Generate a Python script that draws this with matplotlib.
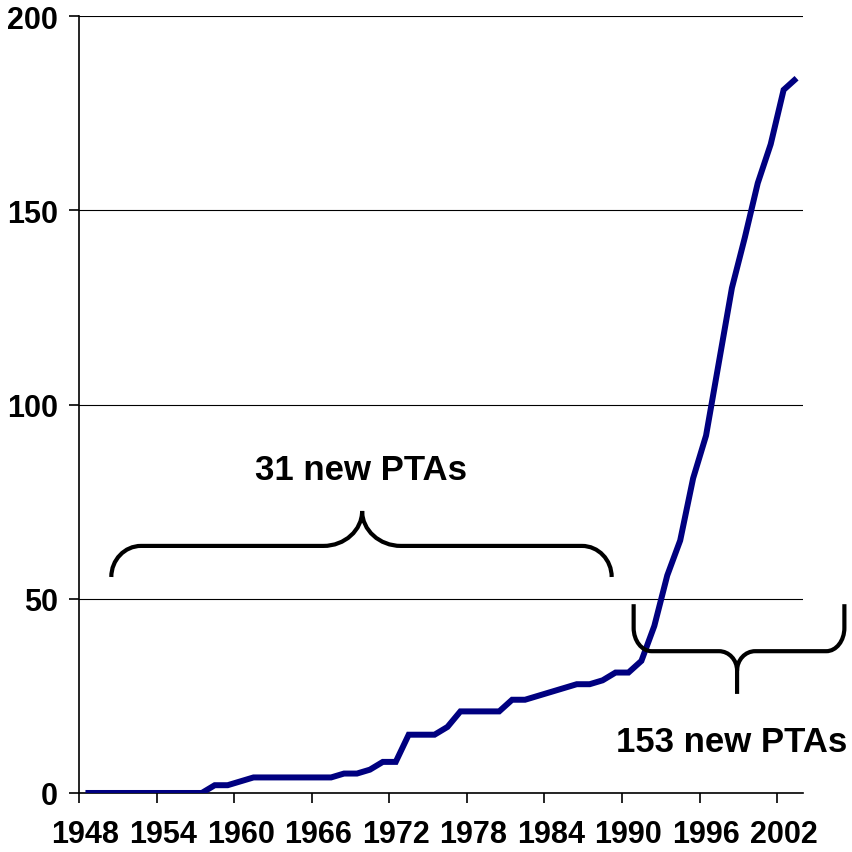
import matplotlib.pyplot as plt
from matplotlib.path import Path
from matplotlib.patches import PathPatch

plt.rcParams['font.family'] = ['Liberation Sans', 'DejaVu Sans']
plt.rcParams['font.weight'] = 'bold'

years = list(range(1948, 2004))
ptas = [0, 0, 0, 0, 0, 0, 0, 0, 0, 0,
        2, 2, 3, 4, 4, 4, 4, 4, 4, 4,
        5, 5, 6, 8, 8, 15, 15, 15, 17, 21,
        21, 21, 21, 24, 24, 25, 26, 27, 28, 28,
        29, 31, 31, 34, 43, 56, 65, 81, 92, 111,
        130, 143, 157, 167, 181, 184]

label_years = [1948, 1954, 1960, 1966, 1972, 1978, 1984, 1990, 1996, 2002]
y_ticks = [0, 50, 100, 150, 200]

# braces: (x_left, x_right, x_center, y_tips, y_bar, y_point)
brace1 = (1950.0, 1988.7, 1969.4, 55.6, 63.6, 72.6)
brace2 = (1990.4, 2006.7, 1998.4, 48.6, 36.5, 25.5)
label1 = ("31 new PTAs", 1969.3, 83.3)
label2 = ("153 new PTAs", 1998.0, 13.2)


def brace_path(x0, x1, xc, ytip, ybar, ypeak, rx, ry, rc, ryc):
    s = 1 if ybar > ytip else -1
    k = 0.552
    verts = [(x0, ytip), (x0, ybar - s * ry),
             (x0, ybar - s * ry + s * k * ry), (x0 + rx - k * rx, ybar), (x0 + rx, ybar),
             (xc - rc, ybar),
             (xc - rc + k * rc, ybar), (xc, ybar + s * ryc - s * k * ryc), (xc, ybar + s * ryc),
             (xc, ypeak),
             (xc, ybar + s * ryc),
             (xc, ybar + s * ryc - s * k * ryc), (xc + rc - k * rc, ybar), (xc + rc, ybar),
             (x1 - rx, ybar),
             (x1 - rx + k * rx, ybar), (x1, ybar - s * ry + s * k * ry), (x1, ybar - s * ry),
             (x1, ytip)]
    codes = [Path.MOVETO, Path.LINETO,
             Path.CURVE4, Path.CURVE4, Path.CURVE4,
             Path.LINETO,
             Path.CURVE4, Path.CURVE4, Path.CURVE4,
             Path.LINETO,
             Path.MOVETO,
             Path.CURVE4, Path.CURVE4, Path.CURVE4,
             Path.LINETO,
             Path.CURVE4, Path.CURVE4, Path.CURVE4,
             Path.LINETO]
    return Path(verts, codes)


fig = plt.figure(figsize=(8.53, 8.53), dpi=100)
ax = fig.add_axes([0.0926, 0.0692, 0.8488, 0.9108])

ax.plot(years, ptas, color='#000080', linewidth=4.3, solid_joinstyle='miter',
        solid_capstyle='butt', zorder=3)

ax.set_xlim(1947.5, 2003.5)
ax.set_ylim(0, 200)

ax.set_yticks(y_ticks)
ax.set_yticklabels([str(v) for v in y_ticks])
ax.yaxis.grid(True, color='black', linewidth=0.8)
ax.set_axisbelow(True)

ax.set_xticks([y - 0.5 for y in label_years])
ax.set_xticklabels([])
ax.set_xticks(label_years, minor=True)
ax.set_xticklabels([str(y) for y in label_years], minor=True)

ax.tick_params(axis='x', which='major', direction='out', length=7, width=1.2)
ax.tick_params(axis='x', which='minor', length=0, pad=19, labelsize=22)
ax.tick_params(axis='y', direction='out', length=7, width=1.2, pad=8, labelsize=22)

for side in ['top', 'right']:
    ax.spines[side].set_visible(False)
for side in ['left', 'bottom']:
    ax.spines[side].set_linewidth(1.2)

p1 = brace_path(*brace1, rx=2.3, ry=8.0, rc=3.0, ryc=9.0)
p2 = brace_path(*brace2, rx=1.4, ry=6.0, rc=1.4, ryc=5.0)
for p in [p1, p2]:
    ax.add_patch(PathPatch(p, fill=False, edgecolor='black', linewidth=3,
                           clip_on=False, zorder=4))

for txt, x, y in [label1, label2]:
    ax.text(x, y, txt, ha='center', va='center', fontsize=25, fontweight='bold',
            clip_on=False)

plt.savefig('out.png', dpi=100)
